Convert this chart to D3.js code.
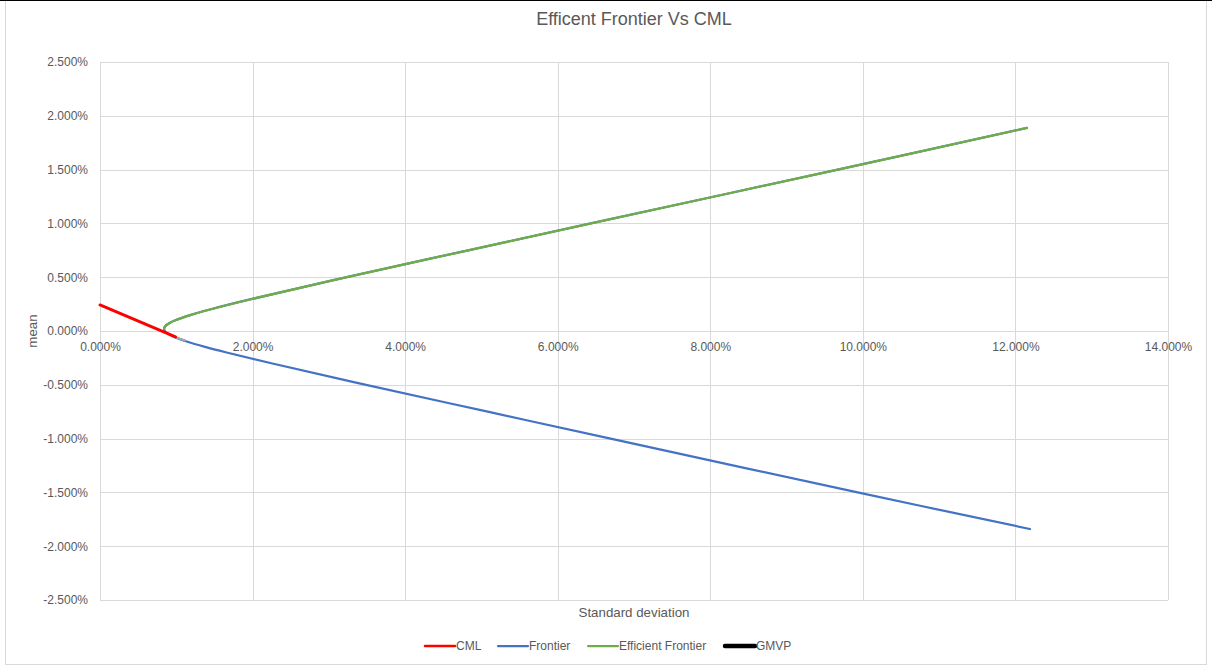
<!DOCTYPE html>
<html>
<head>
<meta charset="utf-8">
<script src="https://cdn.jsdelivr.net/npm/d3@7"></script>
<style>
  html, body { margin: 0; padding: 0; background: #fff; }
  svg { display: block; font-family: "Liberation Sans", Arial, sans-serif; }
</style>
</head>
<body>
<svg id="chart" width="1212" height="668"></svg>
<script>
// ---- data (values in percent) ----
const chartTitle = "Efficent Frontier Vs CML";
const xTicks = [0, 2, 4, 6, 8, 10, 12, 14];
const yTicks = [2.5, 2.0, 1.5, 1.0, 0.5, 0.0, -0.5, -1.0, -1.5, -2.0, -2.5];

const cmlSigma = [0.00, 0.99];
const cmlMean  = [0.242, -0.055];

const frontierSigma = [12.15, 9.672, 6.435, 4.826, 3.236, 2.007, 1.442, 1.192, 0.988, 0.913, 0.862, 0.8425, 0.840,
                       0.850, 0.879, 0.955, 1.147, 1.389, 1.660, 2.246, 3.488, 5.083, 6.693, 9.931, 12.19];
const frontierMean  = [1.887, 1.500, 1.000, 0.750, 0.500, 0.300, 0.200, 0.150, 0.100, 0.075, 0.050, 0.030, 0.020,
                       0.000, -0.020, -0.050, -0.100, -0.150, -0.200, -0.300, -0.500, -0.750, -1.000, -1.500, -1.840];

const efficientSigma = [0.840, 0.8425, 0.862, 0.913, 0.988, 1.192, 1.442, 2.007, 3.236, 4.826, 6.435, 9.672, 12.15];
const efficientMean  = [0.020, 0.030, 0.050, 0.075, 0.100, 0.150, 0.200, 0.300, 0.500, 0.750, 1.000, 1.500, 1.887];

const graySigma = [0.944, 1.000, 1.114];
const grayMean  = [-0.042, -0.060, -0.088];

const gmvpSigma = [0.840];
const gmvpMean  = [0.020];

const legendNames = ["CML", "Frontier", "Efficient Frontier", "GMVP"];
const legendColors = ["#ff0000", "#4472c4", "#70ad47", "#000000"];

// ---- layout ----
const svg = d3.select("#chart");
const W = 1212, H = 668;
const plot = { left: 100, right: 1168, top: 62, bottom: 600 };
const textColor = "#595959";
const gridColor = "#d9d9d9";
const pct = d => d3.format(".3f")(d).replace("\u2212", "-") + "%";

// outer frame
svg.append("rect").attr("x", 5.5).attr("y", 0.5).attr("width", 1201).attr("height", 664)
  .attr("fill", "#fff").attr("stroke", "#d9d9d9").attr("stroke-width", 1);
svg.append("line").attr("x1", 0).attr("x2", W).attr("y1", 0.5).attr("y2", 0.5)
  .attr("stroke", "#000").attr("stroke-width", 1);

const x = d3.scaleLinear().domain([0, 14]).range([plot.left, plot.right]);
const y = d3.scaleLinear().domain([-2.5, 2.5]).range([plot.bottom, plot.top]);

// gridlines
const g = svg.append("g");
g.selectAll(".hg").data(yTicks).enter().append("line")
  .attr("x1", plot.left).attr("x2", plot.right)
  .attr("y1", d => Math.round(y(d)) + 0.5).attr("y2", d => Math.round(y(d)) + 0.5)
  .attr("stroke", gridColor).attr("stroke-width", 1);
g.selectAll(".vg").data(xTicks).enter().append("line")
  .attr("x1", d => Math.round(x(d)) + 0.5).attr("x2", d => Math.round(x(d)) + 0.5)
  .attr("y1", plot.top).attr("y2", plot.bottom)
  .attr("stroke", gridColor).attr("stroke-width", 1);

// y axis labels
const yAxis = d3.axisLeft(y).tickValues(yTicks).tickSize(0).tickPadding(12).tickFormat(pct);
const ya = svg.append("g").attr("transform", `translate(${plot.left},0)`).call(yAxis);
ya.select(".domain").remove();
ya.selectAll("text").attr("fill", textColor).style("font-size", "12px")
  .style("font-family", "'Liberation Sans', Arial, sans-serif");

// x axis labels at zero line
const xAxis = d3.axisBottom(x).tickValues(xTicks).tickSize(0).tickPadding(11).tickFormat(pct);
const xa = svg.append("g").attr("transform", `translate(0,${y(0)})`).call(xAxis);
xa.select(".domain").remove();
xa.selectAll("text").attr("fill", textColor).style("font-size", "12px")
  .style("font-family", "'Liberation Sans', Arial, sans-serif");

// series
const line = d3.line().x(d => x(d[0])).y(d => y(d[1])).curve(d3.curveCatmullRom.alpha(0.5));
const zip = (a, b) => a.map((v, i) => [v, b[i]]);

svg.append("path").datum(zip(frontierSigma, frontierMean)).attr("d", line)
  .attr("fill", "none").attr("stroke", "#4472c4").attr("stroke-width", 2.25).attr("stroke-linecap", "round");
svg.append("path").datum(zip(graySigma, grayMean)).attr("d", line)
  .attr("fill", "none").attr("stroke", "#a5a5a5").attr("stroke-width", 2.25).attr("stroke-linecap", "round");
svg.append("path").datum(zip(efficientSigma, efficientMean)).attr("d", line)
  .attr("fill", "none").attr("stroke", "#70ad47").attr("stroke-width", 2.25).attr("stroke-linecap", "round");
svg.append("path").datum(zip(cmlSigma, cmlMean)).attr("d", d3.line().x(d => x(d[0])).y(d => y(d[1])))
  .attr("fill", "none").attr("stroke", "#ff0000").attr("stroke-width", 3).attr("stroke-linecap", "round");
svg.append("path").datum(zip(gmvpSigma, gmvpMean)).attr("d", d3.line().x(d => x(d[0])).y(d => y(d[1])))
  .attr("fill", "none").attr("stroke", "#000").attr("stroke-width", 4.5);

// title
svg.append("text").attr("x", (plot.left + plot.right) / 2).attr("y", 25)
  .attr("text-anchor", "middle").attr("fill", textColor).style("font-size", "18px").text(chartTitle);

// axis titles
svg.append("text").attr("x", (plot.left + plot.right) / 2).attr("y", 617)
  .attr("text-anchor", "middle").attr("fill", textColor).style("font-size", "13.3px").text("Standard deviation");
svg.append("text").attr("transform", `translate(37,${y(0)}) rotate(-90)`)
  .attr("text-anchor", "middle").attr("fill", textColor).style("font-size", "13.3px").text("mean");

// legend
const legendX = [425, 498, 588, 725];
const legendWidths = [2.5, 2.25, 2.25, 4.5];
const lg = svg.append("g");
legendNames.forEach((name, i) => {
  lg.append("line").attr("x1", legendX[i]).attr("x2", legendX[i] + 30)
    .attr("y1", 646).attr("y2", 646).attr("stroke", legendColors[i])
    .attr("stroke-width", legendWidths[i]).attr("stroke-linecap", "round");
  lg.append("text").attr("x", legendX[i] + 31).attr("y", 650)
    .attr("fill", textColor).style("font-size", "12px").text(name);
});
</script>
</body>
</html>
